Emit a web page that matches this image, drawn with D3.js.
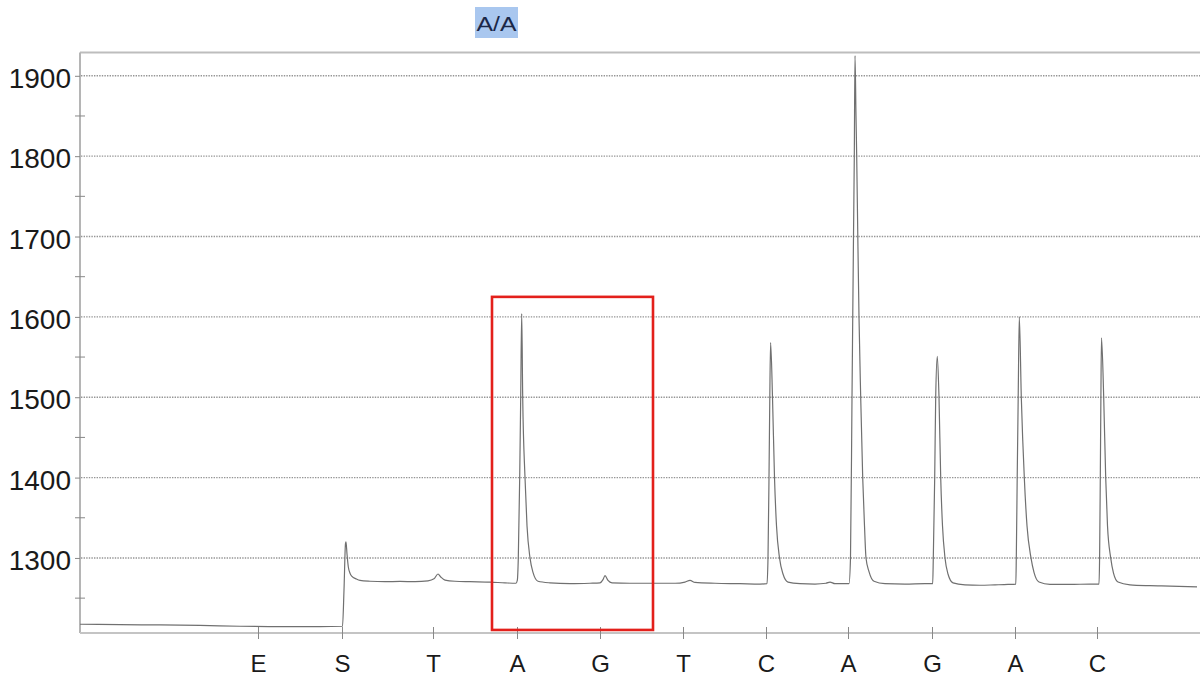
<!DOCTYPE html>
<html>
<head>
<meta charset="utf-8">
<script src="https://cdn.jsdelivr.net/npm/d3@7"></script>
<style>
  html, body { margin: 0; padding: 0; background: #fff; }
  svg { display: block; font-family: "Liberation Sans", Arial, sans-serif; }
</style>
</head>
<body>
<svg id="chart" width="1200" height="684"></svg>
<script>
// ---- data ----
const dispensationLabels = ["E", "S", "T", "A", "G", "T", "C", "A", "G", "A", "C"];
const dispensationTimes  = [17.8, 26.2, 35.3, 43.7, 52.0, 60.3, 68.6, 76.8, 85.2, 93.5, 101.7];
const yTickValues = [1300, 1400, 1500, 1600, 1700, 1800, 1900];
const yMinorTickValues = [1250, 1350, 1450, 1550, 1650, 1750, 1850];
const genotypeCall = "A/A";
const genotypeTime = 41.65;
const highlightTimes = [41.2, 57.3];
const highlightSignal = [1210.4, 1624.9];

const traceTime = [
  0, 4, 8, 12, 16, 20, 24, 26.25, 26.4, 26.55, 26.6, 26.7, 26.83, 27.0, 27.2, 27.6, 28.0,
  29.0, 30.5, 32, 33.5, 34.8, 35.4, 35.8, 36.1, 36.5, 37.5, 39, 41, 42.5, 43.6,
  43.73, 43.83, 43.97, 44.07, 44.17, 44.27, 44.5, 44.7, 45.0, 45.3, 45.8, 47, 49, 51,
  52, 52.3, 52.5, 52.8, 53.2, 55, 57.5, 59.5, 60.5, 61, 61.5, 63.5, 66, 68,
  68.7, 68.8, 68.9, 68.98, 69.06, 69.25, 69.45, 69.65, 69.95, 70.3, 70.8, 72, 73.5,
  74.6, 75.0, 75.5, 76.9,
  77.05, 77.2, 77.35, 77.43, 77.5, 77.6, 77.67, 77.78, 77.9, 78.07, 78.27, 78.45, 78.6,
  78.9, 79.4, 80.5, 82.5, 84.5,
  85.27, 85.33, 85.47, 85.57, 85.73, 85.9, 86.07, 86.25, 86.5, 86.8, 87.3, 88.5, 90,
  91.5, 92.8,
  93.58, 93.63, 93.72, 93.82, 93.93, 94.13, 94.43, 94.7, 95.1, 95.4, 95.9, 97, 99, 101,
  101.9, 101.96, 102.03, 102.09, 102.15, 102.37, 102.57, 102.75, 103.07, 103.35, 103.8,
  105, 107, 109, 111.7
];
const traceSignal = [
  1217.5, 1217, 1216.6, 1216, 1215, 1214.5, 1214.5, 1215, 1260, 1318, 1320, 1305, 1289, 1281, 1277, 1274, 1272,
  1271, 1270.5, 1270.8, 1270.5, 1271.5, 1274, 1280, 1276, 1272.5, 1271, 1270.5, 1270, 1269, 1268.5,
  1272, 1300, 1400, 1500, 1604, 1500, 1400, 1340, 1300, 1282, 1271, 1269, 1268, 1268.5,
  1269, 1273, 1278, 1272, 1269, 1268.5, 1268.5, 1268.5, 1270, 1272, 1269.5, 1268.5, 1268, 1267.5,
  1268, 1300, 1400, 1500, 1568, 1500, 1400, 1340, 1300, 1280, 1270, 1268, 1267.5,
  1268.5, 1270, 1268, 1268,
  1300, 1500, 1700, 1800, 1925, 1850, 1800, 1700, 1600, 1500, 1400, 1340, 1300,
  1283, 1271, 1268, 1267.5, 1268,
  1268, 1300, 1400, 1500, 1551, 1500, 1400, 1340, 1300, 1280, 1269, 1266.5, 1266,
  1266.5, 1267,
  1267.5, 1300, 1400, 1500, 1600, 1500, 1400, 1340, 1300, 1282, 1270, 1267, 1267, 1267.5,
  1267.5, 1300, 1400, 1500, 1574, 1500, 1400, 1340, 1300, 1281, 1270,
  1266.5, 1265.5, 1265, 1264
];

// ---- layout ----
const svg = d3.select("#chart");
const plotLeft = 80, plotRight = 1200, plotTop = 52.5, plotBottom = 633;

const x = d3.scaleLinear().domain([0, 112]).range([plotLeft, plotRight]);
const y = d3.scaleLinear().domain([1206.6, 1929]).range([plotBottom, plotTop]);

// gridlines
svg.append("g")
  .selectAll("line")
  .data(yTickValues)
  .join("line")
  .attr("x1", plotLeft + 1).attr("x2", plotRight)
  .attr("y1", d => y(d)).attr("y2", d => y(d))
  .attr("stroke", "#959595")
  .attr("stroke-width", 1.4)
  .attr("stroke-dasharray", "1.4,1.2");

// top border
svg.append("line")
  .attr("x1", plotLeft).attr("x2", plotRight)
  .attr("y1", plotTop).attr("y2", plotTop)
  .attr("stroke", "#bdbdbd").attr("stroke-width", 2);

// left axis
const yAxis = d3.axisLeft(y).tickValues(yTickValues).tickSize(5).tickPadding(4).tickFormat(d3.format("d"));
const gy = svg.append("g").attr("transform", `translate(${plotLeft},0)`).call(yAxis);
gy.select(".domain").attr("stroke", "#b5b5b5").attr("stroke-width", 2)
  .attr("d", `M0,${plotTop}V${plotBottom}`);
gy.selectAll(".tick line").attr("stroke", "#888");
gy.selectAll(".tick text")
  .attr("font-size", 28)
  .attr("fill", "#1a1a1a")
  .attr("dy", "0.42em")
  .attr("font-family", "'Liberation Sans', Arial, sans-serif");

// minor ticks
svg.append("g")
  .selectAll("line")
  .data(yMinorTickValues)
  .join("line")
  .attr("x1", plotLeft - 5).attr("x2", plotLeft + 5)
  .attr("y1", d => y(d)).attr("y2", d => y(d))
  .attr("stroke", "#888").attr("stroke-width", 1);

// bottom axis
const xAxis = d3.axisBottom(x)
  .tickValues(dispensationTimes)
  .tickFormat((d, i) => dispensationLabels[i])
  .tickSize(6).tickPadding(16);
const gx = svg.append("g").attr("transform", `translate(0,${plotBottom})`).call(xAxis);
gx.select(".domain").attr("stroke", "#c4c4c4").attr("stroke-width", 2)
  .attr("d", `M${plotLeft},0H${plotRight}`);
gx.selectAll(".tick line").attr("stroke", "#888").attr("y1", -6).attr("y2", 6);
gx.selectAll(".tick text")
  .attr("font-size", 24)
  .attr("fill", "#1a1a1a")
  .attr("font-family", "'Liberation Sans', Arial, sans-serif");

// trace
const trace = traceTime.map((t, i) => [t, traceSignal[i]]);
svg.append("path")
  .datum(trace)
  .attr("fill", "none")
  .attr("stroke", "#707070")
  .attr("stroke-width", 1.2)
  .attr("stroke-linejoin", "round")
  .attr("d", d3.line().curve(d3.curveMonotoneX).x(d => x(d[0])).y(d => y(d[1])));

// highlight box
svg.append("rect")
  .attr("x", x(highlightTimes[0]))
  .attr("y", y(highlightSignal[1]))
  .attr("width", x(highlightTimes[1]) - x(highlightTimes[0]))
  .attr("height", y(highlightSignal[0]) - y(highlightSignal[1]))
  .attr("fill", "none")
  .attr("stroke", "#e3201b")
  .attr("stroke-width", 2.6);

// genotype call label
const labelX = x(genotypeTime);
svg.append("rect")
  .attr("x", labelX - 21.5).attr("y", 7)
  .attr("width", 43).attr("height", 31)
  .attr("fill", "#a9c7ef");
svg.append("text")
  .attr("x", labelX - 20).attr("y", 31)
  .attr("font-size", 20)
  .attr("textLength", 40)
  .attr("lengthAdjust", "spacingAndGlyphs")
  .attr("fill", "#1b2747")
  .text(genotypeCall);
</script>
</body>
</html>
